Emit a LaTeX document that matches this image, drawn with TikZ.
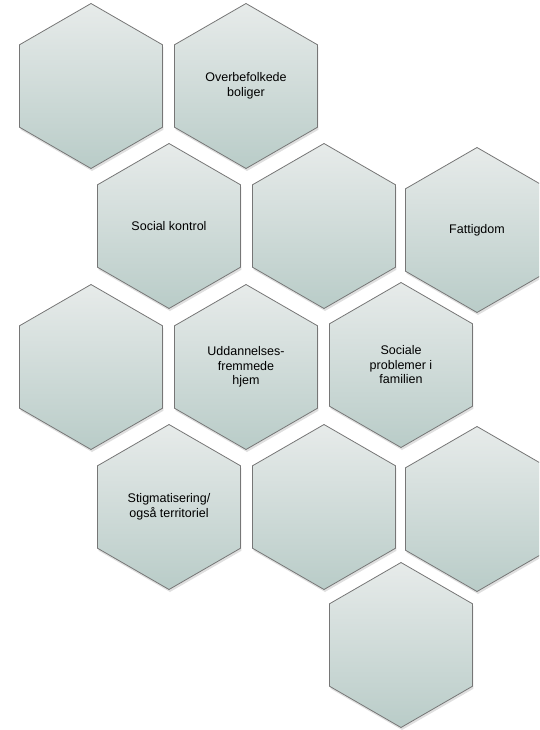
\documentclass[tikz,border=0pt]{standalone}
\usepackage{fontspec}
\setmainfont{Liberation Sans}
\usetikzlibrary{shapes.geometric,shadows}
\definecolor{hextop}{HTML}{E7EBEA}
\definecolor{hexbot}{HTML}{B9CCC8}
\definecolor{hexline}{HTML}{767676}
\begin{document}
\begin{tikzpicture}[x=1pt,y=-1pt,
  hexcell/.style={regular polygon, regular polygon sides=6,
    regular polygon rotate=30, minimum size=165pt, inner sep=0pt,
    draw=hexline, line width=0.8pt,
    top color=hextop, bottom color=hexbot,
    drop shadow={opacity=0.25, shadow xshift=1pt, shadow yshift=-2.5pt},
    align=center, text=black,
    font=\fontsize{12.5}{14.5}\selectfont}]
\useasboundingbox (0,0) rectangle (539,730);
\clip (0,0) rectangle (539,730);
\node[hexcell] (h11) at (91,86) {};
\node[hexcell] (h12) at (246,86) {Overbefolkede\\boliger};
\node[hexcell] (h21) at (169,226) {Social kontrol};
\node[hexcell] (h22) at (324,226) {};
\node[hexcell] (h23) at (477,230) {Fattigdom};
\node[hexcell] (h31) at (91,367) {};
\node[hexcell] (h32) at (246,367) {Uddannelses-\\fremmede\\hjem};
\node[hexcell] (h33) at (401,365) {Sociale\\problemer i\\familien};
\node[hexcell] (h41) at (169,507) {Stigmatisering/\\også territoriel};
\node[hexcell] (h42) at (324,507) {};
\node[hexcell] (h43) at (477,509) {};
\node[hexcell] (h51) at (401,645) {};
\end{tikzpicture}
\end{document}
